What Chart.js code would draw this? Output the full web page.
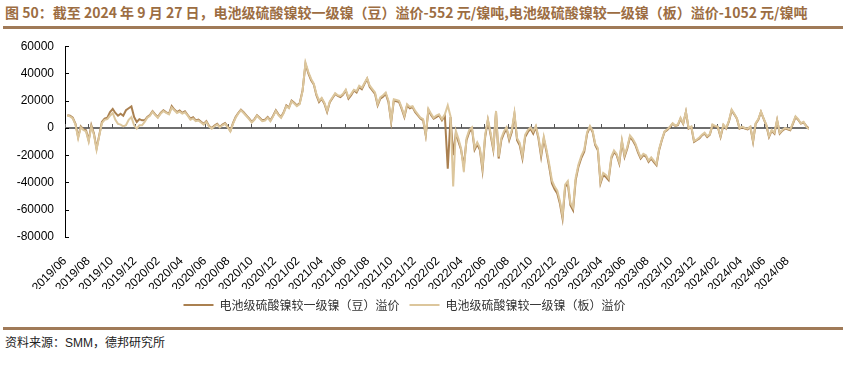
<!DOCTYPE html>
<html>
<head>
<meta charset="utf-8">
<script src="https://cdn.jsdelivr.net/npm/chart.js@4.4.1/dist/chart.umd.min.js"></script>
<style>
body { margin: 0; width: 846px; height: 365px; background: #fff; position: relative; overflow: hidden; font-family: "Liberation Sans", Arial, sans-serif; }
#title { position: absolute; left: 5px; top: 2px; font: bold 14px "Noto Sans CJK SC"; color: #9c6d42; white-space: nowrap; }
.rule { position: absolute; left: 3px; width: 840px; height: 3px; background: #a07a58; }
#box { position: absolute; left: 0; top: 28px; width: 846px; height: 293px; }
#src { position: absolute; left: 5px; top: 333px; font: 12px "Noto Sans CJK SC"; color: #222; white-space: nowrap; }
#src span { font-family: "Liberation Sans", Arial; }
</style>
</head>
<body>
<div id="title">图 50：截至 2024 年 9 月 27 日，电池级硫酸镍较一级镍（豆）溢价-552 元/镍吨,电池级硫酸镍较一级镍（板）溢价-1052 元/镍吨</div>
<div class="rule" style="top:26px"></div>
<div id="box"><canvas id="myChart" width="846" height="293"></canvas></div>
<div class="rule" style="top:327px"></div>
<div id="src">资料来源：<span>SMM</span>，德邦研究所</div>
<script>
// tick labels every two months
const tickLabels = ['2019/06','2019/08','2019/10','2019/12','2020/02','2020/04','2020/06','2020/08',
  '2020/10','2020/12','2021/02','2021/04','2021/06','2021/08','2021/10','2021/12',
  '2022/02','2022/04','2022/06','2022/08','2022/10','2022/12','2023/02','2023/04',
  '2023/06','2023/08','2023/10','2023/12','2024/02','2024/04','2024/06','2024/08'];

// weekly values (Friday closes), from 2019/06/07 to 2024/09/27, 元/镍吨
const dou = [
  9300, 9000, 7500, 3000, -6600, 1200, -1000, -1700, -9000, 2000,
  -4000, -15000, -5400, 4400, 6800, 7500, 11700, 14000, 11000, 9000,
  10500, 9000, 13000, 14500, 15800, 8000, 4400, 6500, 5600, 5600,
  8000, 9500, 12400, 10000, 8000, 11000, 13000, 11500, 10500, 16000,
  13500, 11700, 12800, 11000, 12200, 9500, 6800, 7800, 5600, 6200,
  4500, 3000, 5000, 1500, 0, 1800, 3000, 800, 2500, 3600,
  1000, -2200, 3500, 8000, 11000, 13400, 11500, 9300, 7000, 4400,
  6500, 9300, 7500, 5600, 6000, 8000, 5500, 9000, 13000, 10000,
  8000, 11500, 16600, 15000, 20000, 18500, 16600, 18000, 27500, 47000,
  40000, 35000, 32000, 24000, 19000, 21500, 17800, 11700, 19000, 22000,
  25000, 23500, 22700, 24500, 27500, 21500, 24000, 27500, 26000, 30000,
  28500, 32400, 36000, 30000, 27500, 25000, 16600, 21500, 23000, 25000,
  19000, 4400, 20000, 19500, 19000, 14000, 8000, 16600, 14500, 15400,
  11500, 9300, 7000, 5600, -5400, 13000, 9500, 6800, 8000, 9300,
  5600, 9000, -29800, 8000, -20000, -4000, -10000, -16000, -28000, -9000,
  -3000, -500, -16000, -12000, -16000, -31000, -6600, 5600, -5000, -16000,
  11700, -22400, -9000, -4000, -500, -9000, -3000, 10000, -9000, -12700,
  -22400, -6600, -2900, -500, -4100, 700, -7800, -21000, -7800, -17500,
  -28500, -40700, -45000, -48000, -55400, -66400, -43200, -40700, -56600, -60300,
  -38300, -28500, -22000, -17500, -4100, 700, -2900, -12700, -16300, -40700,
  -34600, -36000, -38300, -22400, -17500, -20000, -26100, -10200, -21200, -15000,
  -6600, -9000, -12700, -18000, -22400, -20000, -21000, -24900, -22400, -25000,
  -27300, -16300, -9000, -2900, -1500, 700, 3200, 1500, 2000, 6800,
  3000, 11700, -500, 700, -10200, -9000, -7800, -5500, -4100, -6600,
  -5000, 2000, 1000, 700, -6600, 2000, -500, 5000, 12900, 10000,
  6800, -500, 500, -500, -1000, 700, -10200, 3200, 6000, 11700,
  6800, 2000, -6600, -2000, -4100, 5600, -4100, -2000, -500, -1000,
  -1700, 3000, 8000, 6000, 3200, 4000, 1500, -552
];
const ban = [
  9000, 8500, 7000, 2500, -7500, 500, -1500, -2500, -10000, 1000,
  -5000, -16000, -6000, 3500, 6000, 6500, 9000, 11000, 6000, 3000,
  2500, 1200, 2000, 6000, 8000, 2000, -500, 2000, 2000, 4500,
  7500, 9000, 12000, 9500, 7500, 10500, 12500, 11000, 10000, 15000,
  13000, 11000, 12000, 10500, 11500, 9000, 6000, 7000, 5000, 5500,
  4000, 2500, 4500, 1000, -500, 1200, 2500, 500, 2000, 3000,
  500, -2500, 3000, 7500, 10500, 13000, 11000, 8800, 6500, 4000,
  6000, 9000, 7000, 5000, 5500, 7500, 5000, 8500, 12500, 9500,
  7500, 11000, 16000, 14500, 19500, 18000, 16000, 17500, 27000, 48000,
  41000, 36000, 32500, 25000, 20000, 22000, 18500, 12500, 19500, 22500,
  25500, 24000, 23500, 25000, 28000, 22500, 25000, 28000, 27000, 31000,
  29500, 33000, 36500, 31000, 28500, 26000, 17500, 22500, 24000, 26000,
  20000, 5000, 21000, 20500, 20000, 15000, 9000, 17500, 15500, 16000,
  12500, 10000, 7500, 6500, -5000, 14000, 10500, 7500, 9000, 10000,
  6500, 10000, 16600, 8500, -43000, -2000, -8000, -15000, -32000, -7500,
  -1500, 500, -14500, -10500, -14500, -29000, -5000, 6500, -3500, -14500,
  12500, -21000, -7500, -2500, 500, -7500, -1500, 11000, -7500, -11000,
  -20500, -5000, -1500, 500, -2500, 1500, -6500, -19000, -6500, -16000,
  -26500, -38500, -43000, -46000, -53500, -64500, -41500, -39000, -55000, -58500,
  -36500, -27000, -20500, -16000, -3000, 1500, -2000, -11500, -15000, -39500,
  -33000, -34500, -37000, -21000, -16500, -19000, -25000, -9000, -20000, -14000,
  -5500, -8000, -11500, -17000, -21500, -19000, -20000, -24000, -21500, -24000,
  -26500, -15500, -8500, -2500, -1000, 1000, 3500, 1800, 2500, 7500,
  3500, 12000, 0, 1000, -9500, -8500, -7000, -5000, -3500, -6000,
  -4500, 2500, 1500, 1000, -6000, 2500, 0, 5500, 13500, 10500,
  7000, 0, 1000, 0, -500, 1000, -9500, 3500, 6500, 12000,
  7000, 2500, -6000, -1500, -3500, 6000, -3500, -1500, 0, -500,
  -1200, 3500, 8500, 6500, 3500, 4500, 1000, -1052
];

// month position from 2019/06 (linear x axis)
const monthPos = d => {
  const dim = new Date(d.getFullYear(), d.getMonth() + 1, 0).getDate();
  return (d.getFullYear() - 2019) * 12 + d.getMonth() - 5 + (d.getDate() - 1) / dim;
};
const weekX = i => monthPos(new Date(2019, 5, 7 + 7 * i));
const xMax = monthPos(new Date(2024, 8, 27));

const setTicks = scale => { scale.ticks = tickLabels.map((t, k) => ({ value: 2 * k })); };

// zero line with small tick marks, inner y ticks
const axisMarks = {
  id: 'axisMarks',
  beforeDatasetsDraw(chart) {
    const { ctx, chartArea, scales: { x, y } } = chart;
    const y0 = Math.round(y.getPixelForValue(0));
    ctx.save();
    ctx.strokeStyle = '#6e6e6e';
    ctx.lineWidth = 2;
    ctx.beginPath();
    ctx.moveTo(chartArea.left, y0);
    ctx.lineTo(chartArea.right, y0);
    ctx.stroke();
    ctx.lineWidth = 1;
    ctx.strokeStyle = '#555';
    ctx.beginPath();
    x.ticks.forEach(t => {
      const px = Math.round(x.getPixelForValue(t.value)) + 0.5;
      ctx.moveTo(px, y0);
      ctx.lineTo(px, y0 - 4);
    });
    ctx.stroke();
    ctx.strokeStyle = '#000';
    ctx.beginPath();
    y.ticks.forEach(t => {
      const py = Math.round(y.getPixelForValue(t.value)) + 0.5;
      ctx.moveTo(chartArea.left, py);
      ctx.lineTo(chartArea.left + 4, py);
    });
    ctx.stroke();
    ctx.restore();
  }
};

const ctx = document.getElementById('myChart').getContext('2d');
const myChart = new Chart(ctx, {
  type: 'line',
  data: {
    datasets: [{
      label: '电池级硫酸镍较一级镍（豆）溢价',
      data: dou.map((v, i) => ({ x: weekX(i), y: v })),
      borderColor: '#aa8050',
      backgroundColor: '#aa8050',
      borderWidth: 2,
      pointRadius: 0,
      order: 1
    }, {
      label: '电池级硫酸镍较一级镍（板）溢价',
      data: ban.map((v, i) => ({ x: weekX(i), y: v })),
      borderColor: '#dcc69c',
      backgroundColor: '#dcc69c',
      borderWidth: 2,
      pointRadius: 0,
      order: 0
    }]
  },
  options: {
    responsive: false,
    animation: false,
    devicePixelRatio: 1,
    layout: { padding: { left: 0, right: 37, top: 4, bottom: 0 } },
    plugins: {
      legend: {
        position: 'bottom',
        reverse: true,
        labels: {
          boxWidth: 30,
          boxHeight: 0,
          padding: 10,
          color: '#333',
          font: { family: 'Noto Sans CJK SC', size: 12 }
        }
      },
      tooltip: { enabled: false }
    },
    scales: {
      x: {
        type: 'linear',
        min: 0,
        max: xMax,
        afterBuildTicks: setTicks,
        afterFit: s => { s.height = 52; },
        grid: { display: false },
        border: { display: false },
        ticks: {
          autoSkip: false,
          minRotation: 45,
          maxRotation: 45,
          padding: 9,
          color: '#000',
          font: { family: 'Liberation Sans', size: 12 },
          callback: v => tickLabels[Math.round(v / 2)]
        }
      },
      y: {
        min: -80000,
        max: 60000,
        afterFit: s => { s.width = 65; },
        grid: { drawOnChartArea: false, drawTicks: false },
        border: { display: true, color: '#000', width: 1 },
        ticks: {
          stepSize: 20000,
          padding: 11,
          color: '#000',
          font: { family: 'Liberation Sans', size: 12 },
          callback: v => String(v)
        }
      }
    }
  },
  plugins: [axisMarks]
});
</script>
</body>
</html>
